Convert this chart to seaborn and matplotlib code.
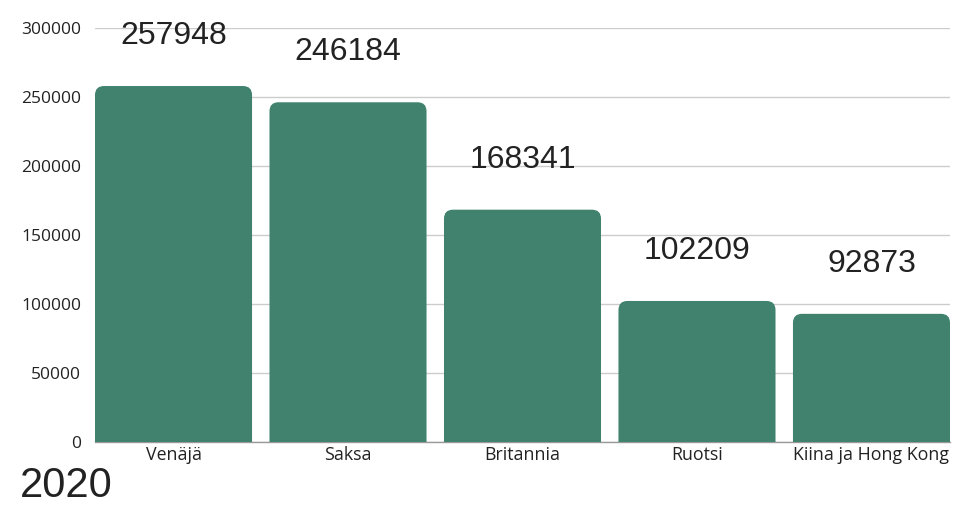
import matplotlib
matplotlib.use("Agg")
import matplotlib.pyplot as plt
from matplotlib.patches import FancyBboxPatch
import seaborn as sns
import pandas as pd

countries = ["Venäjä", "Saksa", "Britannia", "Ruotsi", "Kiina ja Hong Kong"]
values = [257948, 246184, 168341, 102209, 92873]
year_label = "2020"
yticks = [0, 50000, 100000, 150000, 200000, 250000, 300000]

bar_color = "#41826f"

sns.set_theme(style="white")
plt.rcParams["font.family"] = ["Open Sans", "DejaVu Sans"]

df = pd.DataFrame({"maa": countries, "arvo": values})

fig = plt.figure(figsize=(9.65, 5.08), dpi=100)
ax = fig.add_axes([95 / 965, 1 - 442 / 508, 855 / 965, 414 / 508])

sns.barplot(data=df, x="maa", y="arvo", color=bar_color, width=0.9,
            saturation=1, ax=ax, zorder=3)

ax.set_xlim(-0.45, 4.45)
ax.set_ylim(0, 300000)

# swap plain rectangles for bars with rounded top corners
fig.canvas.draw()
px_per_x = ax.transData.transform((1, 0))[0] - ax.transData.transform((0, 0))[0]
px_per_y = ax.transData.transform((0, 1))[1] - ax.transData.transform((0, 0))[1]
radius_px = 9
rx = radius_px / px_per_x
ry = radius_px / px_per_y
for p in list(ax.patches):
    x0, w, h = p.get_x(), p.get_width(), p.get_height()
    p.remove()
    rb = FancyBboxPatch((x0, -ry), w, h + ry,
                        boxstyle=f"round,pad=0,rounding_size={rx}",
                        mutation_aspect=ry / rx,
                        facecolor=bar_color, edgecolor="none", zorder=3)
    ax.add_patch(rb)

for i, v in enumerate(values):
    ax.annotate(f"{v}", (i, v), xytext=(0, 36), textcoords="offset points",
                ha="center", va="center", fontsize=23, color="#222222",
                family=["Liberation Sans", "DejaVu Sans"], zorder=4)

ax.set_yticks(yticks)
ax.set_yticklabels([str(t) for t in yticks], fontsize=12.5, color="#222222")
ax.tick_params(axis="x", labelsize=12.8, colors="#222222", pad=3)
ax.tick_params(axis="y", pad=10, length=0)
ax.tick_params(axis="x", length=0)
ax.set_xlabel("")
ax.set_ylabel("")
ax.yaxis.grid(True, color="#cccccc", linewidth=1, zorder=0)
ax.set_axisbelow(True)
for s in ["top", "right", "left"]:
    ax.spines[s].set_visible(False)
ax.spines["bottom"].set_color("#999999")
ax.spines["bottom"].set_linewidth(1)
ax.spines["bottom"].set_zorder(2)

fig.text(20 / 965, 1 - 497 / 508, year_label, fontsize=30, color="#222222",
         family=["Liberation Sans", "DejaVu Sans"], ha="left", va="baseline")

fig.savefig("out.png", dpi=100)
